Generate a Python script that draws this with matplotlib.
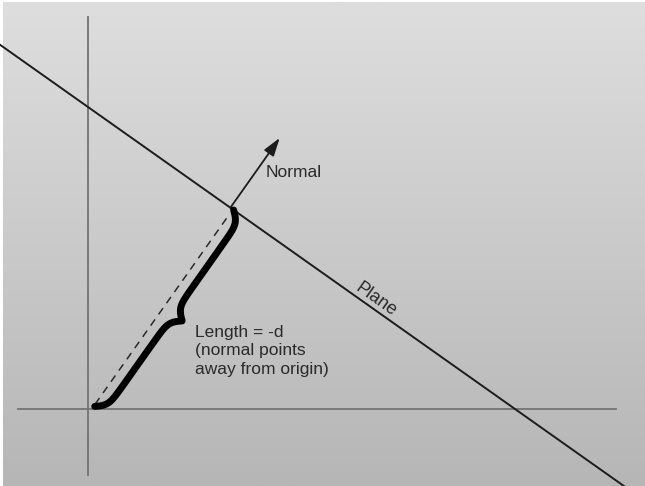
import numpy as np
import matplotlib
matplotlib.use("Agg")
import matplotlib.pyplot as plt

plt.rcParams['font.family'] = ['Liberation Sans', 'DejaVu Sans']

# geometry (units ~ pixels, origin at the axes crossing)
x_axis_range = [-70, 528]
y_axis_range = [-66, 392]
plane_x_intercept = 427
plane_y_intercept = 302
normal_length = 332
plane_x_range = [-100, 580]

labels = ['Normal', 'Plane', 'Length = -d\n(normal points\naway from origin)']

# plane normal and distance from the origin
direction = np.array([plane_x_intercept, -plane_y_intercept], float)
n = np.array([plane_y_intercept, plane_x_intercept], float)
n = n / np.linalg.norm(n)
perp = np.array([n[1], -n[0]])
d = plane_x_intercept * n[0]
foot = d * n

fig = plt.figure(figsize=(6.45, 4.86), dpi=100)
ax = fig.add_axes([0, 0, 1, 1])
ax.set_xlim(-88, 557)
ax.set_ylim(-77, 409)
ax.axis('off')

# grey background gradient with a thin white border
grad = np.linspace(0, 1, 200).reshape(-1, 1)
ax.imshow(grad, cmap=matplotlib.colors.LinearSegmentedColormap.from_list('bg', ['#dedede', '#b6b6b6']),
          extent=(-85, 557, -77, 406), aspect='auto', zorder=0)
fig.patch.set_facecolor('white')

# axes
ax.plot(x_axis_range, [0, 0], color='#737373', lw=1.3, zorder=1)
ax.plot([0, 0], y_axis_range, color='#737373', lw=1.3, zorder=1)

# plane
px = np.array(plane_x_range, float)
py = plane_y_intercept * (1 - px / plane_x_intercept)
ax.plot(px, py, color='#1c1c1c', lw=1.4, zorder=2)

# normal arrow
tip = normal_length * n
ax.annotate('', xy=tip, xytext=foot,
            arrowprops=dict(arrowstyle='-|>,head_length=1.1,head_width=0.35', color='#1c1c1c', lw=1.3,
                            shrinkA=0, shrinkB=0), zorder=3)
ax.text(tip[0] - 14, tip[1] - 35, labels[0], fontsize=12.5, color='#2a2a2a', va='center', ha='left')

# dashed line along the normal
s0, s1 = 8, 240
dash = np.array([s0 * n + 3 * perp, s1 * n + 3 * perp])
ax.plot(dash[:, 0], dash[:, 1], color='#2a2a2a', lw=1.1, ls=(0, (5, 4)), zorder=2)

# curly brace
L = d - 6
half = np.linspace(0, L / 2, 150)
beta = 0.22
yh = 1 / (1 + np.exp(-beta * half)) + 1 / (1 + np.exp(-beta * (half - half[-1]))) - 0.5
prof = np.concatenate([yh, yh[-2::-1]])
s = np.concatenate([half, L - half[-2::-1]]) + 6
off = 4 + 22 * prof
bx = s * n[0] + off * perp[0]
by = s * n[1] + off * perp[1]
ax.plot(bx, by, color='black', lw=5, solid_capstyle='round', zorder=4)

# plane label
ang = np.degrees(np.arctan2(direction[1], direction[0]))
ax.text(288, 109, labels[1], fontsize=13, color='#2a2a2a', rotation=ang,
        rotation_mode='anchor', ha='center', va='center')

ax.text(107, 58, labels[2], fontsize=12.5, color='#2a2a2a', va='center', ha='left',
        linespacing=1.3)

fig.savefig('out.png', dpi=100)
